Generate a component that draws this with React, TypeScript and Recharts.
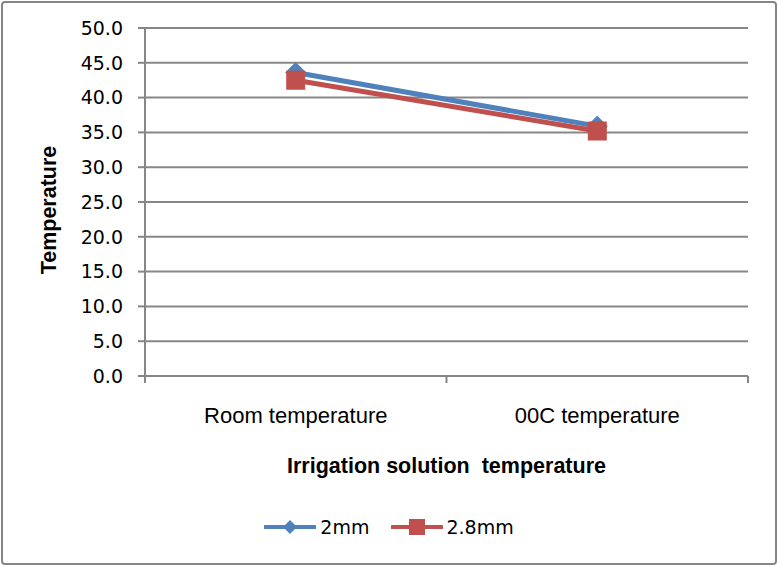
import React from 'react';
import { LineChart, Line, XAxis, YAxis, CartesianGrid, Legend } from 'recharts';

const categories = ['Room temperature', '00C temperature'];
const categoryPositions = [0.5, 1.5];
const boundaryTicks = [0, 1, 2];
const series2mm = [43.6, 35.9];
const series28mm = [42.5, 35.2];
const seriesNames = ['2mm', '2.8mm'];
const yTicks = [0, 5, 10, 15, 20, 25, 30, 35, 40, 45, 50];
const xTitle = 'Irrigation solution  temperature';
const yTitle = 'Temperature';

const BLUE = '#4F81BD';
const RED = '#C0504D';
const GRID = '#878787';
const TITLE_FONT = 'Liberation Sans';
const TICK_FONT = 'DejaVu Sans';

const data = categories.map((c, i) => ({
  x: categoryPositions[i],
  name: c,
  s1: series2mm[i],
  s2: series28mm[i],
}));

const xTickValues = [...boundaryTicks, ...categoryPositions].sort((a, b) => a - b);

const XTick = (props: any) => {
  const { x, y, payload } = props;
  const v = payload.value;
  if (boundaryTicks.includes(v)) {
    return <line x1={x} y1={y} x2={x} y2={y + 7} stroke={GRID} strokeWidth={2} />;
  }
  const idx = categoryPositions.indexOf(v);
  return (
    <text x={x} y={y + 47} textAnchor="middle" fontFamily={TITLE_FONT} fontSize={22} fill="#000">
      {categories[idx]}
    </text>
  );
};

const Diamond = (props: any) => {
  const { cx, cy } = props;
  if (cx == null || cy == null) return null;
  const r = 10;
  return (
    <path d={`M${cx},${cy - r}L${cx + r},${cy}L${cx},${cy + r}L${cx - r},${cy}Z`} fill={BLUE} stroke={BLUE} strokeWidth={1} />
  );
};

const Square = (props: any) => {
  const { cx, cy } = props;
  if (cx == null || cy == null) return null;
  const s = 9;
  return <rect x={cx - s} y={cy - s} width={2 * s} height={2 * s} fill={RED} stroke={RED} strokeWidth={1} />;
};

const LegendContent = () => (
  <div style={{ display: 'flex', justifyContent: 'center', alignItems: 'center', height: 50, width: 778 }}>
    <div style={{ display: 'flex', alignItems: 'center' }}>
      <svg width={52} height={20}>
        <line x1={1} y1={10} x2={51} y2={10} stroke={BLUE} strokeWidth={4} strokeLinecap="round" />
        <path d="M26,3L33,10L26,17L19,10Z" fill={BLUE} />
      </svg>
      <span style={{ fontFamily: TICK_FONT, fontSize: 19, marginLeft: 4 }}>{seriesNames[0]}</span>
    </div>
    <div style={{ display: 'flex', alignItems: 'center', marginLeft: 22 }}>
      <svg width={52} height={20}>
        <line x1={1} y1={10} x2={51} y2={10} stroke={RED} strokeWidth={4} strokeLinecap="round" />
        <rect x={18} y={2} width={16} height={16} fill={RED} />
      </svg>
      <span style={{ fontFamily: TICK_FONT, fontSize: 19, marginLeft: 3 }}>{seriesNames[1]}</span>
    </div>
  </div>
);

const YTitle = (props: any) => {
  const vb = props.viewBox || {};
  const cy = vb.y + vb.height / 2 + 8;
  const cx = 56;
  return (
    <text x={cx} y={cy} transform={`rotate(-90, ${cx}, ${cy})`} textAnchor="middle"
      fontFamily={TITLE_FONT} fontWeight="bold" fontSize={21.5} fill="#000">
      {yTitle}
    </text>
  );
};

const XTitle = (props: any) => {
  const vb = props.viewBox || {};
  return (
    <text x={vb.x + vb.width / 2} y={vb.y + 97} textAnchor="middle"
      fontFamily={TITLE_FONT} fontWeight="bold" fontSize={21.5} fill="#000" style={{ whiteSpace: 'pre' }}>
      {xTitle}
    </text>
  );
};

export default function App() {
  return (
    <div style={{ position: 'absolute', left: 0, top: 0, width: 778, height: 567, background: '#fff' }}>
      <div style={{ position: 'absolute', left: 1, top: 1, width: 772, height: 560, border: '2px solid #868686', borderRadius: 4, pointerEvents: 'none' }} />
      <LineChart width={778} height={567} data={data} margin={{ top: 28, right: 30, left: 0, bottom: 41 }}
        style={{ fontFamily: TICK_FONT }}>
        <CartesianGrid vertical={false} stroke={GRID} strokeWidth={2} />
        <XAxis type="number" dataKey="x" domain={[0, 2]} ticks={xTickValues} interval={0}
          tickLine={false} tickSize={0} tickMargin={0} height={100}
          axisLine={{ stroke: GRID, strokeWidth: 2 }} tick={<XTick />} label={<XTitle />} />
        <YAxis type="number" domain={[0, 50]} ticks={yTicks} interval={0} width={145}
          tickFormatter={(v: number) => v.toFixed(1)} tickSize={7} tickMargin={15}
          tickLine={{ stroke: GRID, strokeWidth: 2 }} axisLine={{ stroke: GRID, strokeWidth: 2 }}
          tick={{ fill: '#000', fontSize: 19, fontFamily: TICK_FONT }} label={<YTitle />} />
        <Legend verticalAlign="bottom" height={50} content={<LegendContent />}
          wrapperStyle={{ top: 502, bottom: 'auto', left: 0, width: 778 }} />
        <Line dataKey="s1" name={seriesNames[0]} stroke={BLUE} strokeWidth={5} dot={<Diamond />} activeDot={false} isAnimationActive={false} />
        <Line dataKey="s2" name={seriesNames[1]} stroke={RED} strokeWidth={5} dot={<Square />} activeDot={false} isAnimationActive={false} />
      </LineChart>
    </div>
  );
}
